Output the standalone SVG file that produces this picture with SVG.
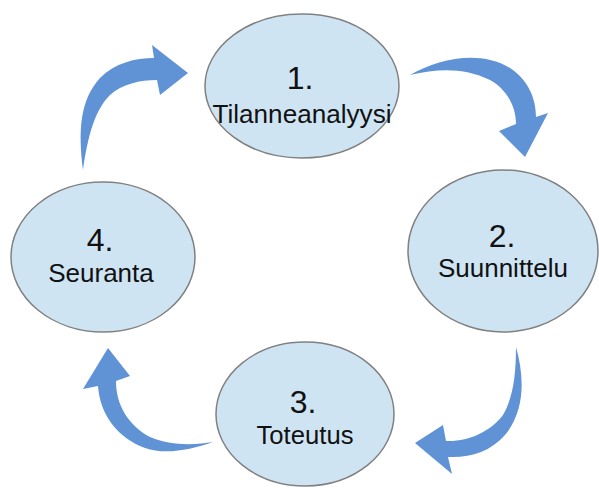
<svg xmlns="http://www.w3.org/2000/svg" width="599" height="488" viewBox="0 0 599 488">
<style>
.node ellipse{fill:#cfe4f3;stroke:#808080;stroke-width:1.5}
.num{font-family:"Liberation Sans",Arial,sans-serif;font-size:32px;fill:#111;text-anchor:middle}
.lbl{font-family:"Liberation Sans",Arial,sans-serif;font-size:26px;fill:#111;text-anchor:middle}
.arrow{fill:#5f93d6;stroke:none}
</style>
<rect width="599" height="488" fill="#fff"/>
<g id="connectors">
<path class="arrow" d="M410,75 C440,58 480,50 510,68 C528,80 536,98 536,117 L548,113 L525,157 L499,131 L516,124 C516,105 505,88 490,80 C465,68 440,68 410,75 Z"/>
<path class="arrow" d="M516,347 C524,375 526,410 505,435 C490,452 470,458 448,457 L452,474 L415,443 L443,425 L446,441 C468,442 490,432 503,415 C513,398 516,375 516,347 Z"/>
<path class="arrow" d="M213,442 C190,450 165,455 145,448 C118,438 100,415 98,386 L83,389 L108,348 L130,376 L116,381 C116,405 128,425 150,437 C170,446 195,445 213,442 Z"/>
<path class="arrow" d="M83,170 C78,130 80,100 100,78 C115,63 135,58 154,58 L152,45 L188,73 L160,95 L157,80 C140,80 122,84 110,95 C95,110 88,135 83,170 Z"/>
</g>
<g id="node1" class="node">
<ellipse cx="302" cy="86" rx="97" ry="72"/>
<text class="num" x="300" y="89">1.</text>
<text class="lbl" x="302" y="123" textLength="179" lengthAdjust="spacingAndGlyphs">Tilanneanalyysi</text>
</g>
<g id="node2" class="node">
<ellipse cx="503" cy="251" rx="95" ry="81"/>
<text class="num" x="502" y="247">2.</text>
<text class="lbl" x="503" y="277">Suunnittelu</text>
</g>
<g id="node3" class="node">
<ellipse cx="305" cy="414" rx="89" ry="72"/>
<text class="num" x="303" y="413">3.</text>
<text class="lbl" x="305" y="444" textLength="97" lengthAdjust="spacingAndGlyphs">Toteutus</text>
</g>
<g id="node4" class="node">
<ellipse cx="103" cy="257" rx="92" ry="75"/>
<text class="num" x="100" y="251">4.</text>
<text class="lbl" x="101" y="282">Seuranta</text>
</g>
</svg>
